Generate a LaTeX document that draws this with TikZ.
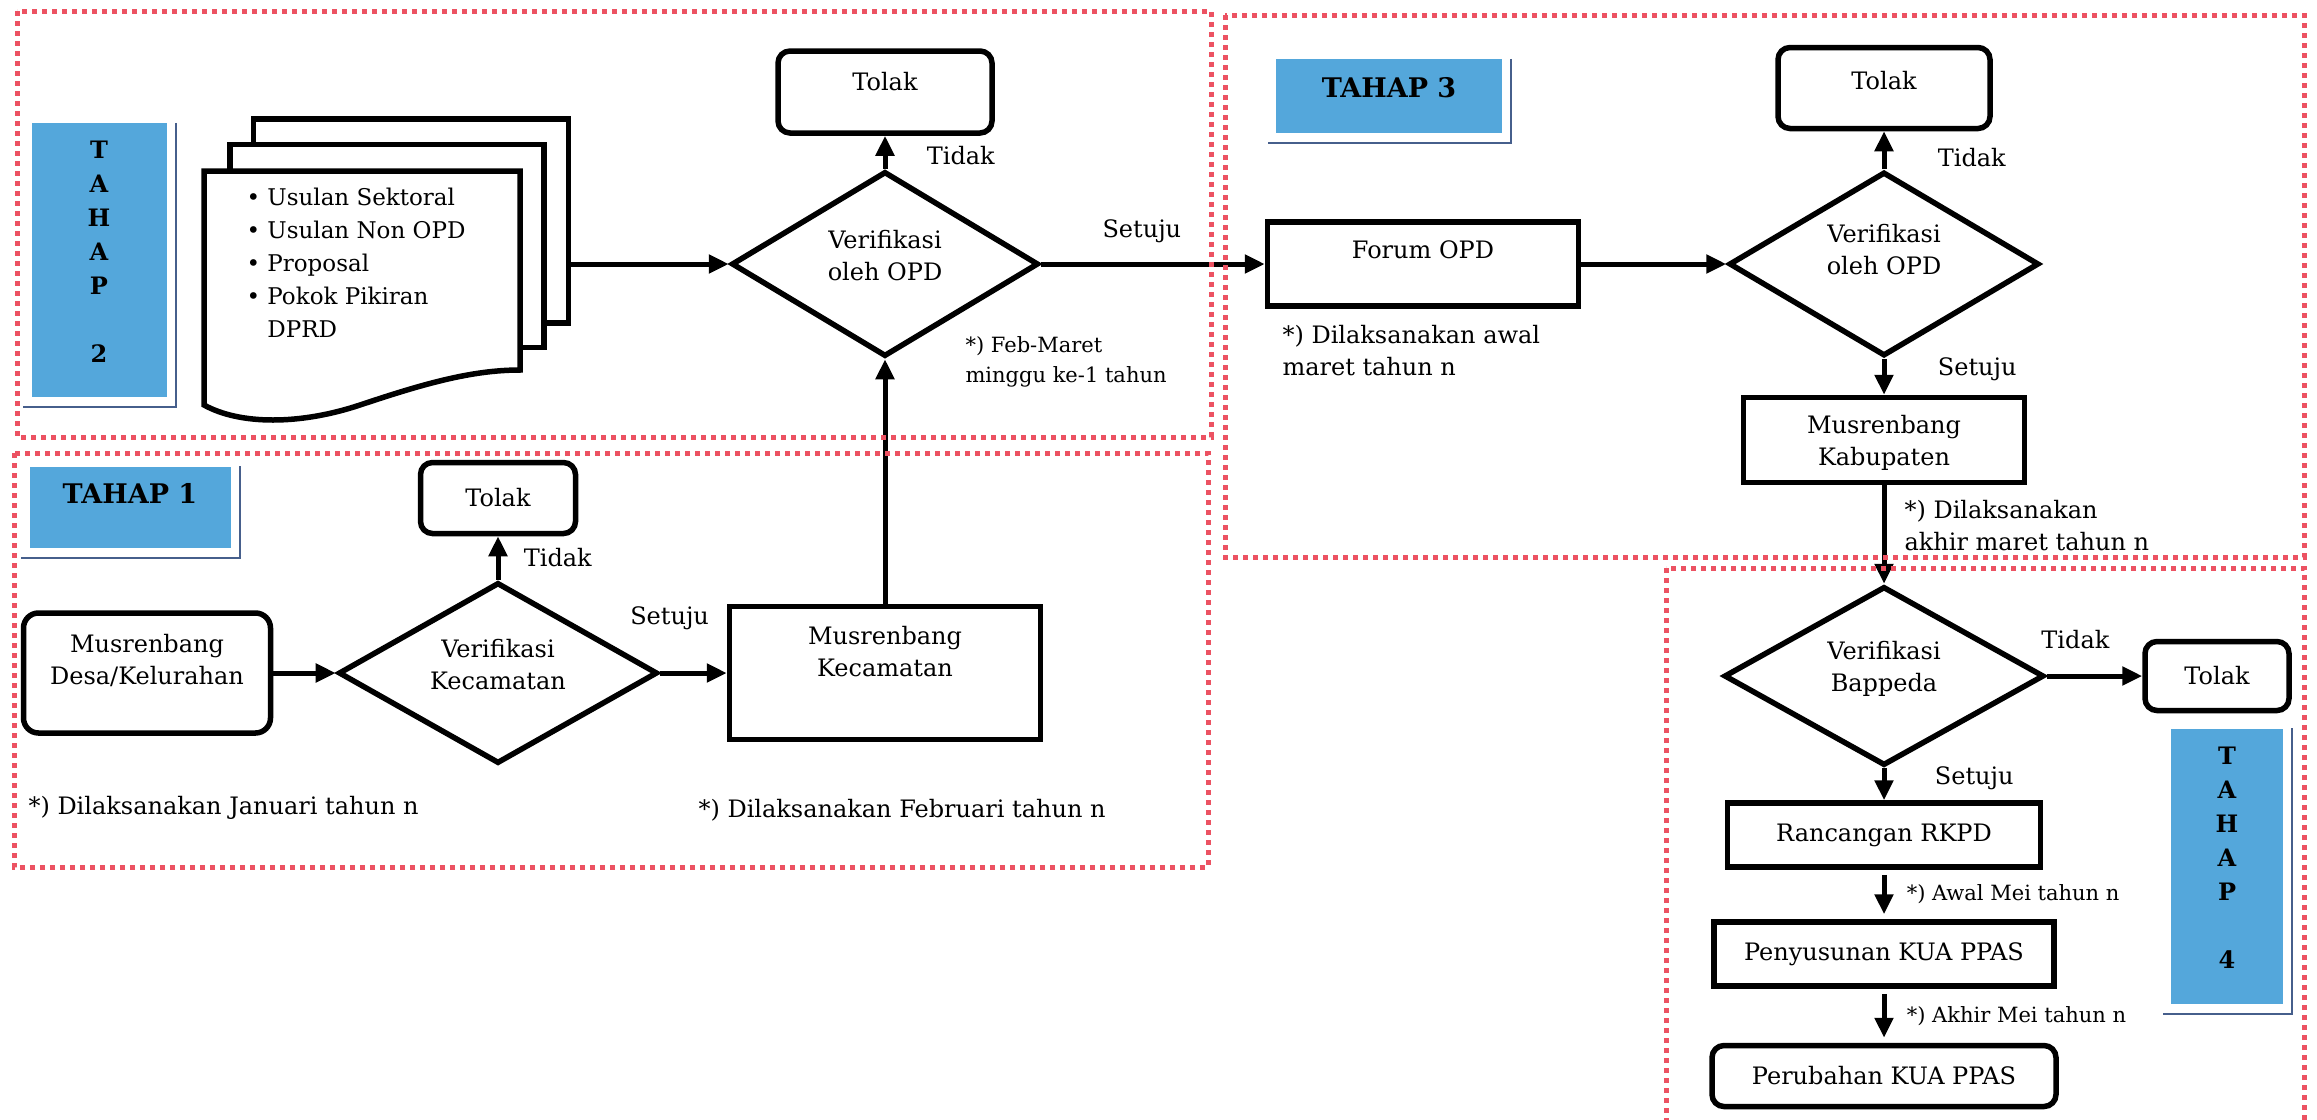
\documentclass[tikz,border=0pt]{standalone}
\usepackage{fontspec}
\setmainfont{DejaVu Serif}
\usetikzlibrary{shapes.geometric, arrows.meta}
\definecolor{biru}{RGB}{84,167,219}
\definecolor{birutua}{RGB}{70,95,140}
\definecolor{merah}{RGB}{236,82,98}
\tikzstyle{proses} = [rectangle, text centered, align=center, draw=black, line width=5.5pt, inner sep=7pt, font=\fontsize{24}{32}\selectfont]
\tikzstyle{tolak} = [proses, rounded corners=12pt]
\tikzstyle{keputusan} = [diamond, shape aspect=1.7, text centered, align=center, draw=black, line width=5.5pt, inner sep=2pt, font=\fontsize{24}{32}\selectfont]
\tikzstyle{halaman} = [rectangle, draw=black, fill=white, line width=5.5pt]
\tikzstyle{tahap} = [rectangle, fill=biru, align=center, font=\bfseries\fontsize{27}{34}\selectfont]
\tikzstyle{tahapv} = [tahap, font=\bfseries\fontsize{24}{34}\selectfont]
\tikzstyle{bingkai} = [birutua, line width=2pt]
\tikzstyle{ket} = [anchor=west, align=left, font=\fontsize{24}{32}\selectfont]
\tikzstyle{ketkecil} = [ket, font=\fontsize{21}{30}\selectfont]
\tikzstyle{lbl} = [font=\fontsize{24}{32}\selectfont]
\tikzstyle{arrow} = [line width=5pt, -{Triangle[length=20pt,width=18pt]}]
\tikzstyle{batas} = [merah, line width=5pt, dash pattern=on 5pt off 5pt]

\begin{document}
\begin{tikzpicture}[x=1pt, y=-1pt, node distance=100pt]
\useasboundingbox (0,0) rectangle (2317,1119);

% tahap 1
\node (desa) [tolak, minimum width=247pt, minimum height=120pt, rounded corners=15pt, text depth=28pt] at (147,673) {Musrenbang\\Desa/Kelurahan};
\node (dec1) [keputusan, right of=desa, xshift=251pt, minimum width=319pt, minimum height=181pt, text depth=18pt] {Verifikasi\\Kecamatan};
\node (tol1) [tolak, above of=dec1, yshift=75pt, minimum width=155pt, minimum height=71pt] {Tolak};
\node (kec) [proses, right of=dec1, xshift=287pt, minimum width=311pt, minimum height=133pt, text depth=44pt] {Musrenbang\\Kecamatan};
\node (t1) [tahap, above of=desa, xshift=-17pt, yshift=66pt, minimum width=201pt, minimum height=81pt, text depth=28pt] {TAHAP 1};
\node (ket1) [below of=desa, ket, xshift=-122pt, yshift=-35pt] {*) Dilaksanakan Januari tahun n};
\node (ket2) [below of=kec, ket, xshift=-190pt, yshift=-37pt] {*) Dilaksanakan Februari tahun n};

% tahap 2
\node (dec2) [keputusan, above of=kec, yshift=309pt, minimum width=307pt, minimum height=185pt, text depth=18pt] {Verifikasi\\oleh OPD};
\node (tol2) [tolak, above of=dec2, yshift=72pt, minimum width=214pt, minimum height=82pt, text depth=22pt] {Tolak};
\node (doc3) [halaman, left of=dec2, xshift=-374pt, yshift=43pt, minimum width=315pt, minimum height=204pt] {};
\node (doc2) [halaman, below of=doc3, xshift=-24pt, yshift=75pt, minimum width=314pt, minimum height=203pt] {};
\draw [line width=5.5pt, fill=white] (204,171) -- (520,171) -- (520,370) .. controls (470,370) and (420,385) .. (360,405) .. controls (300,425) and (240,425) .. (204,405) -- cycle;
\node (usul) [ket, font=\fontsize{23}{33}\selectfont] at (243,263) {\textbullet\ Usulan Sektoral\\\textbullet\ Usulan Non OPD\\\textbullet\ Proposal\\\textbullet\ Pokok Pikiran\\\phantom{\textbullet\ }DPRD};
\node (t2) [tahapv, left of=doc2, xshift=-188pt, yshift=-14pt, minimum width=135pt, minimum height=274pt, text depth=16pt] {T\\A\\H\\A\\P\\[34pt]2};
\node (ket3) [below of=dec2, ketkecil, xshift=77pt, yshift=2pt] {*) Feb-Maret\\minggu ke-1 tahun};

% tahap 3
\node (forum) [proses, right of=dec2, xshift=438pt, minimum width=311pt, minimum height=84pt, text depth=28pt] {Forum OPD};
\node (dec3) [keputusan, right of=forum, xshift=361pt, minimum width=310pt, minimum height=184pt, text depth=30pt] {Verifikasi\\oleh OPD};
\node (tol3) [tolak, above of=dec3, yshift=76pt, minimum width=212pt, minimum height=81pt, text depth=16pt] {Tolak};
\node (kab) [proses, below of=dec3, yshift=-76pt, minimum width=281pt, minimum height=85pt, text depth=0pt] {Musrenbang\\Kabupaten};
\node (t3) [tahap, above of=forum, xshift=-34pt, yshift=68pt, minimum width=226pt, minimum height=74pt, text depth=18pt] {TAHAP 3};
\node (ket4) [below of=forum, ket, xshift=-144pt, yshift=13pt] {*) Dilaksanakan awal\\maret tahun n};
\node (ket5) [below of=kab, ket, xshift=17pt, yshift=14pt] {*) Dilaksanakan\\akhir maret tahun n};

% tahap 4
\node (dec4) [keputusan, below of=kab, yshift=-136pt, minimum width=320pt, minimum height=179pt, text depth=20pt] {Verifikasi\\Bappeda};
\node (tol4) [tolak, right of=dec4, xshift=233pt, minimum width=144pt, minimum height=69pt] {Tolak};
\node (rkpd) [proses, below of=dec4, yshift=-59pt, minimum width=313pt, minimum height=64pt] {Rancangan RKPD};
\node (kua) [proses, below of=rkpd, yshift=-19pt, minimum width=340pt, minimum height=64pt] {Penyusunan KUA PPAS};
\node (ubah) [tolak, below of=kua, yshift=-22pt, minimum width=344pt, minimum height=61pt] {Perubahan KUA PPAS};
\node (t4) [tahapv, below of=tol4, xshift=10pt, yshift=-90pt, minimum width=112pt, minimum height=275pt, text depth=16pt] {T\\A\\H\\A\\P\\[34pt]4};

% bingkai label tahap
\draw [bingkai] ([xshift=9pt]t1.north east) -- ([xshift=9pt,yshift=-10pt]t1.south east) -- ([xshift=-8pt,yshift=-10pt]t1.south west);
\draw [bingkai] ([xshift=9pt]t2.north east) -- ([xshift=9pt,yshift=-10pt]t2.south east) -- ([xshift=-8pt,yshift=-10pt]t2.south west);
\draw [bingkai] ([xshift=9pt]t3.north east) -- ([xshift=9pt,yshift=-10pt]t3.south east) -- ([xshift=-8pt,yshift=-10pt]t3.south west);
\draw [bingkai] ([xshift=9pt]t4.north east) -- ([xshift=9pt,yshift=-10pt]t4.south east) -- ([xshift=-8pt,yshift=-10pt]t4.south west);

\draw [arrow] (desa) -- (dec1);
\draw [arrow] (dec1) -- (tol1) node[pos=0.5, right, xshift=20pt, lbl]{Tidak};
\draw [arrow] (dec1) -- (kec) node[pos=0.14, above, yshift=37pt, lbl]{Setuju};
\draw [arrow] (kec) -- (dec2);
\draw [arrow] (dec2.west -| doc3.east) -- (dec2.west);
\draw [arrow] (dec2) -- (tol2) node[pos=0.4, right, xshift=36pt, lbl]{Tidak};
\draw [arrow] (dec2) -- (forum) node[pos=0.45, above, yshift=15pt, lbl]{Setuju};
\draw [arrow] (forum) -- (dec3);
\draw [arrow] (dec3) -- (tol3) node[pos=0.3, right, xshift=48pt, lbl]{Tidak};
\draw [arrow] (dec3) -- (kab) node[pos=0.3, right, xshift=48pt, lbl]{Setuju};
\draw [arrow] (kab) -- (dec4);
\draw [arrow] (dec4) -- (tol4) node[pos=0.3, above, yshift=21pt, lbl]{Tidak};
\draw [arrow] (dec4) -- (rkpd) node[pos=0.3, right, xshift=45pt, lbl]{Setuju};
\draw [arrow, shorten <=5pt, shorten >=5pt] (rkpd) -- (kua) node[pos=0.5, right, xshift=17pt, ketkecil]{*) Awal Mei tahun n};
\draw [arrow, shorten <=5pt, shorten >=5pt] (kua) -- (ubah) node[pos=0.5, right, xshift=17pt, ketkecil]{*) Akhir Mei tahun n};

% batas tahap
\draw [batas] (17,11) rectangle (1211,437);
\draw [batas] (14,453) rectangle (1208,867);
\draw [batas] (1225,15) rectangle (2304,557);
\draw [batas] (1666,568) rectangle (2304,1140);

\end{tikzpicture}
\end{document}
